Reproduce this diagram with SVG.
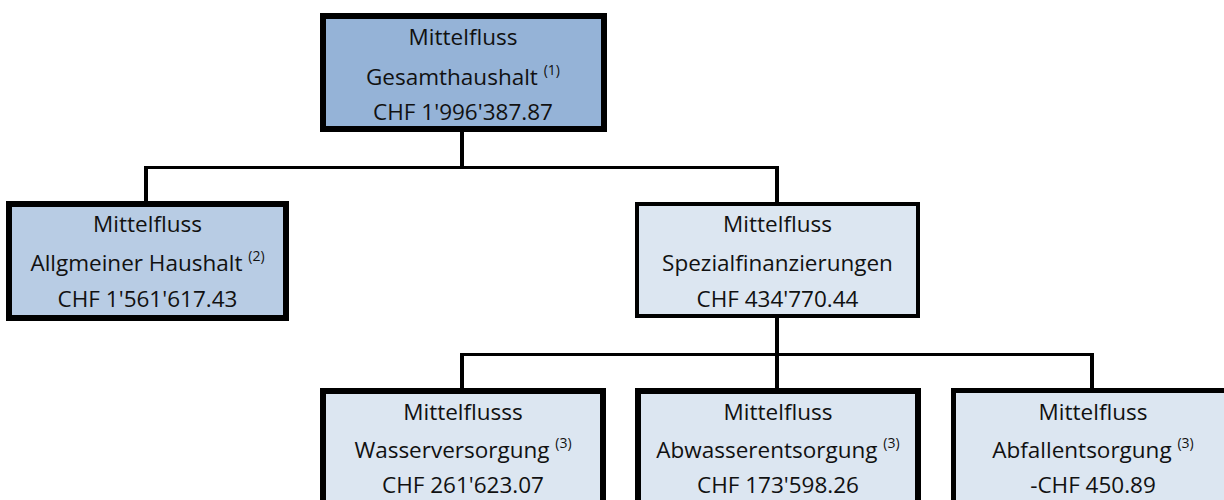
<svg xmlns="http://www.w3.org/2000/svg" width="1224" height="500" viewBox="0 0 1224 500">
<style>
.box{stroke:#000;}
.t{font-family:"Open Sans","Liberation Sans",sans-serif;font-size:22.5px;fill:#111;text-anchor:middle;}
.sup{font-size:14px;}
.c{stroke:#000;fill:none;}
</style>
<rect width="1224" height="500" fill="#fff"/>
<g id="connectors">
<line class="c" x1="462" y1="132" x2="462" y2="168" stroke-width="4"/>
<line class="c" x1="144" y1="167.5" x2="779" y2="167.5" stroke-width="3"/>
<line class="c" x1="146" y1="166" x2="146" y2="202" stroke-width="4"/>
<line class="c" x1="777" y1="166" x2="777" y2="203" stroke-width="4"/>
<line class="c" x1="777" y1="317" x2="777" y2="389" stroke-width="4"/>
<line class="c" x1="460" y1="354.5" x2="1094" y2="354.5" stroke-width="3"/>
<line class="c" x1="462" y1="353" x2="462" y2="389" stroke-width="4"/>
<line class="c" x1="1092" y1="353" x2="1092" y2="389" stroke-width="4"/>
</g>
<g id="gesamt">
<rect class="box" x="323" y="16" width="281" height="113" fill="#95B3D7" stroke-width="6"/>
<text class="t" x="463" y="45">Mittelfluss</text>
<text class="t" x="463" y="85">Gesamthaushalt <tspan class="sup" dy="-10">(1)</tspan></text>
<text class="t" x="463" y="120">CHF 1'996'387.87</text>
</g>
<g id="allgemein">
<rect class="box" x="9" y="204" width="277" height="114" fill="#B8CCE4" stroke-width="6"/>
<text class="t" x="147.5" y="232">Mittelfluss</text>
<text class="t" x="147.5" y="271">Allgmeiner Haushalt <tspan class="sup" dy="-10">(2)</tspan></text>
<text class="t" x="147.5" y="307">CHF 1'561'617.43</text>
</g>
<g id="spezial">
<rect class="box" x="637" y="204" width="281" height="112" fill="#DCE6F1" stroke-width="4"/>
<text class="t" x="777.5" y="232">Mittelfluss</text>
<text class="t" x="777.5" y="271">Spezialfinanzierungen</text>
<text class="t" x="777.5" y="307">CHF 434'770.44</text>
</g>
<g id="wasser">
<rect class="box" x="323" y="391" width="280" height="150" fill="#DCE6F1" stroke-width="6"/>
<text class="t" x="463" y="420">Mittelflusss</text>
<text class="t" x="463" y="458">Wasserversorgung <tspan class="sup" dy="-10">(3)</tspan></text>
<text class="t" x="463" y="493">CHF 261'623.07</text>
</g>
<g id="abwasser">
<rect class="box" x="638" y="391" width="280" height="150" fill="#DCE6F1" stroke-width="6"/>
<text class="t" x="778" y="420">Mittelfluss</text>
<text class="t" x="778" y="458">Abwasserentsorgung <tspan class="sup" dy="-10">(3)</tspan></text>
<text class="t" x="778" y="493">CHF 173'598.26</text>
</g>
<g id="abfall">
<rect class="box" x="953.5" y="390.5" width="280" height="150" fill="#DCE6F1" stroke-width="5"/>
<text class="t" x="1093" y="420">Mittelfluss</text>
<text class="t" x="1093" y="458">Abfallentsorgung <tspan class="sup" dy="-10">(3)</tspan></text>
<text class="t" x="1093" y="493">-CHF 450.89</text>
</g>
</svg>
